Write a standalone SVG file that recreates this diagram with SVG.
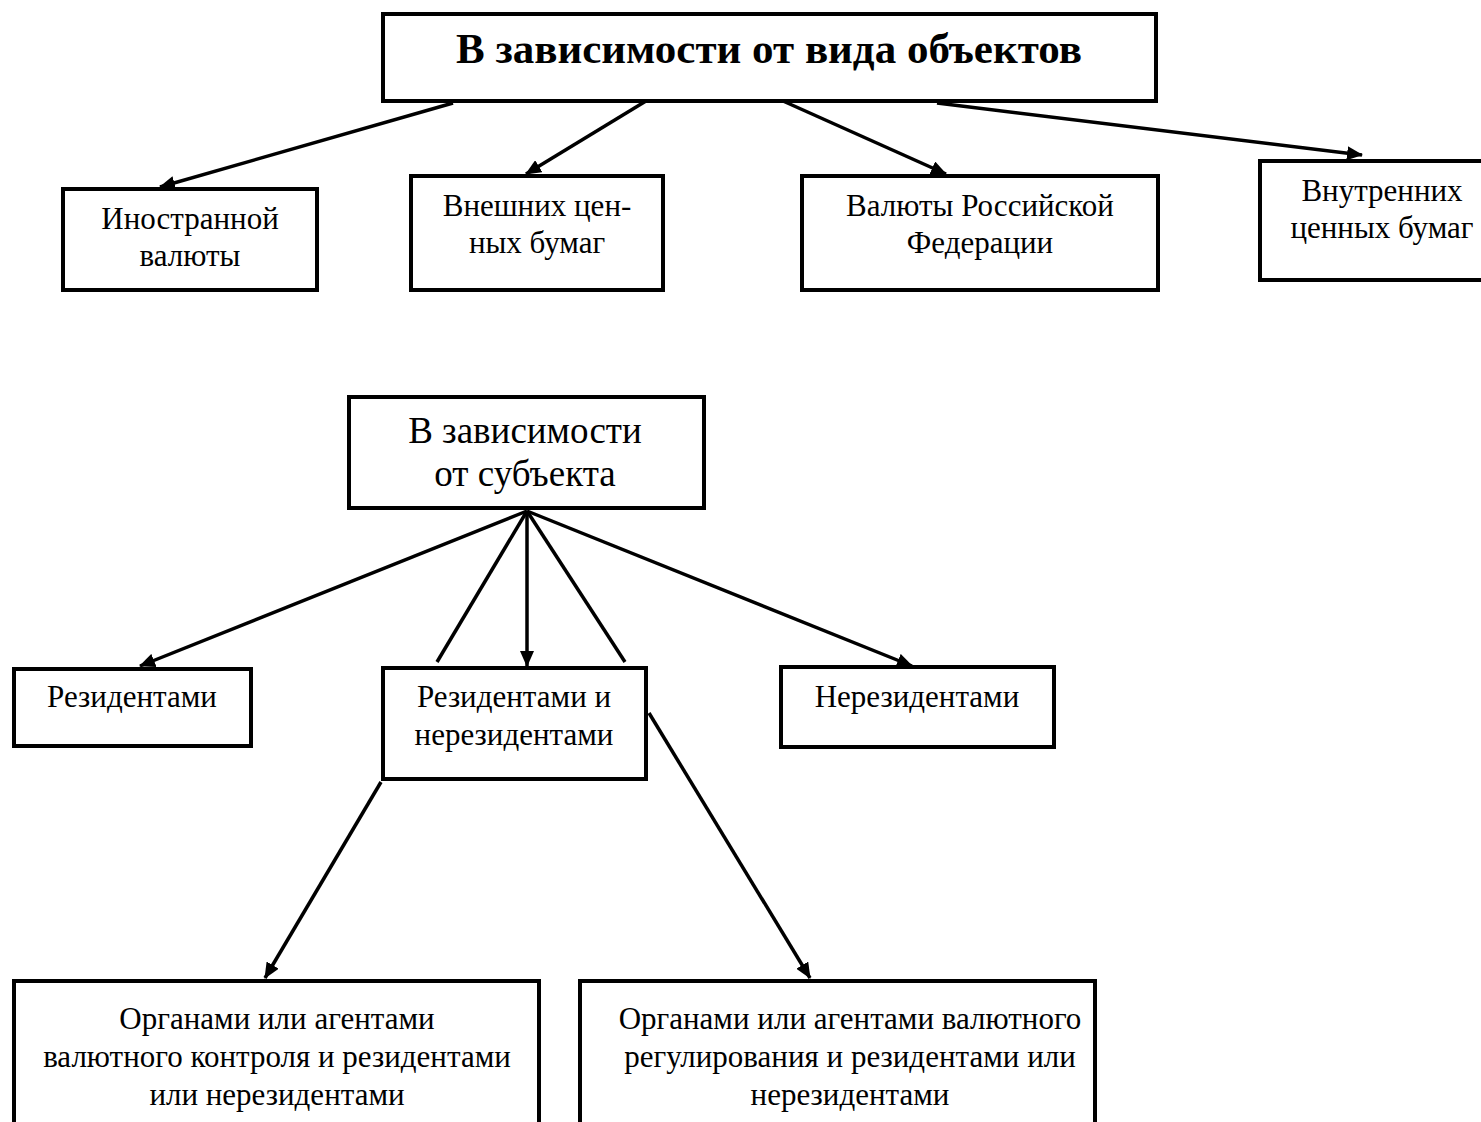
<svg xmlns="http://www.w3.org/2000/svg" width="1481" height="1122" viewBox="0 0 1481 1122">
<defs>
<style>
.box{fill:#fff;stroke:#000;stroke-width:4}
.t{font-family:"Liberation Serif","Times New Roman",serif;font-size:31px;fill:#000;text-anchor:middle}
.big{font-size:37px}
.title{font-size:43px;font-weight:bold}
.c{stroke:#000;stroke-width:3.5;fill:none}
.a{marker-end:url(#ah)}
</style>
<marker id="ah" viewBox="0 0 16 14" refX="15" refY="7" markerWidth="16" markerHeight="14" markerUnits="userSpaceOnUse" orient="auto">
<path d="M0,0 L16,7 L0,14 z" fill="#000"/>
</marker>
</defs>
<rect width="1481" height="1122" fill="#fff"/>

<g id="connectors">
<line class="c a" x1="453" y1="103" x2="160" y2="187"/>
<line class="c a" x1="646" y1="101" x2="526" y2="174"/>
<line class="c a" x1="783" y1="101" x2="946" y2="174"/>
<line class="c a" x1="937" y1="103" x2="1362" y2="155"/>
<line class="c a" x1="527" y1="511" x2="140" y2="666"/>
<line class="c" x1="527" y1="511" x2="437" y2="662"/>
<line class="c a" x1="527" y1="511" x2="527" y2="666"/>
<line class="c" x1="527" y1="511" x2="625" y2="662"/>
<line class="c a" x1="527" y1="511" x2="912" y2="666"/>
<line class="c a" x1="381" y1="782" x2="265" y2="978"/>
<line class="c a" x1="649" y1="713" x2="810" y2="978"/>
</g>

<g id="n-objects">
<rect class="box" x="383" y="14" width="773" height="87"/>
<text class="t title" x="769" y="63">В зависимости от вида объектов</text>
</g>
<g id="n-foreign-currency">
<rect class="box" x="63" y="189" width="254" height="101"/>
<text class="t" x="190" y="229">Иностранной</text>
<text class="t" x="190" y="266">валюты</text>
</g>
<g id="n-external-securities">
<rect class="box" x="411" y="176" width="252" height="114"/>
<text class="t" x="537" y="216">Внешних цен-</text>
<text class="t" x="537" y="253">ных бумаг</text>
</g>
<g id="n-rf-currency">
<rect class="box" x="802" y="176" width="356" height="114"/>
<text class="t" x="980" y="216">Валюты Российской</text>
<text class="t" x="980" y="253">Федерации</text>
</g>
<g id="n-internal-securities">
<rect class="box" x="1260" y="161" width="240" height="119"/>
<text class="t" x="1382" y="201">Внутренних</text>
<text class="t" x="1382" y="238">ценных бумаг</text>
</g>

<g id="n-subject">
<rect class="box" x="349" y="397" width="355" height="111"/>
<text class="t big" x="525" y="443">В зависимости</text>
<text class="t big" x="525" y="486">от субъекта</text>
</g>
<g id="n-residents">
<rect class="box" x="14" y="669" width="237" height="77"/>
<text class="t" x="132" y="707">Резидентами</text>
</g>
<g id="n-res-nonres">
<rect class="box" x="383" y="668" width="263" height="111"/>
<text class="t" x="514" y="707">Резидентами и</text>
<text class="t" x="514" y="745">нерезидентами</text>
</g>
<g id="n-nonresidents">
<rect class="box" x="781" y="667" width="273" height="80"/>
<text class="t" x="917" y="707">Нерезидентами</text>
</g>
<g id="n-control">
<rect class="box" x="14" y="981" width="525" height="160"/>
<text class="t" x="277" y="1029">Органами или агентами</text>
<text class="t" x="277" y="1067">валютного контроля и резидентами</text>
<text class="t" x="277" y="1105">или нерезидентами</text>
</g>
<g id="n-regulation">
<rect class="box" x="580" y="981" width="515" height="160"/>
<text class="t" x="850" y="1029">Органами или агентами валютного</text>
<text class="t" x="850" y="1067">регулирования и резидентами или</text>
<text class="t" x="850" y="1105">нерезидентами</text>
</g>
</svg>
